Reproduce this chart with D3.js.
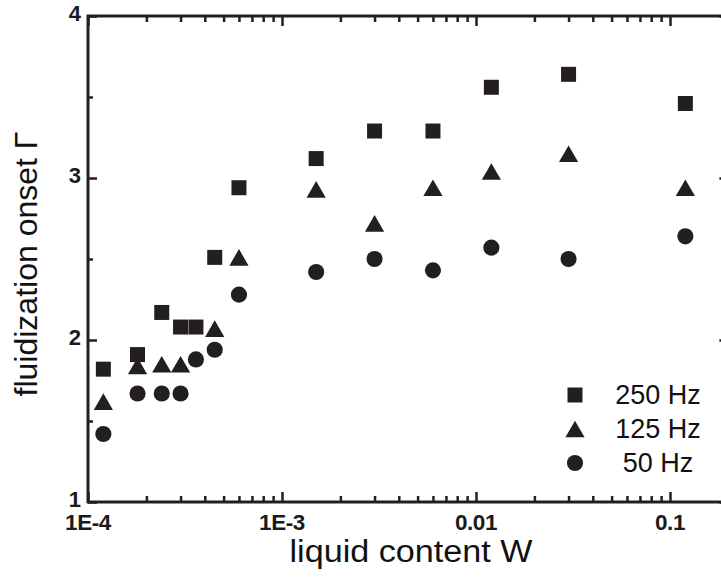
<!DOCTYPE html>
<html>
<head>
<meta charset="utf-8">
<script src="https://cdn.jsdelivr.net/npm/d3@7"></script>
<style>
  html, body { margin: 0; padding: 0; background: #fff; }
  svg { display: block; }
  text { font-family: "Liberation Sans", Arial, Helvetica, sans-serif; }
</style>
</head>
<body>
<svg id="chart" width="721" height="580"></svg>
<script>
// ---------------- data ----------------
const liquidContent = [1.2e-4, 1.8e-4, 2.4e-4, 3.0e-4, 3.6e-4, 4.5e-4, 6.0e-4, 1.5e-3, 3.0e-3, 6.0e-3, 1.2e-2, 3.0e-2, 0.12];
const onset250Hz = [1.82, 1.91, 2.17, 2.08, 2.08, 2.51, 2.94, 3.12, 3.29, 3.29, 3.56, 3.64, 3.46];
const onset125Hz = [1.62, 1.84, 1.85, 1.85, null, 2.07, 2.51, 2.93, 2.72, 2.94, 3.04, 3.15, 2.94];
const onset50Hz  = [1.42, 1.67, 1.67, 1.67, 1.88, 1.94, 2.28, 2.42, 2.50, 2.43, 2.57, 2.50, 2.64];
const seriesNames = ["250 Hz", "125 Hz", "50 Hz"];
const xMajorTicks = [1e-4, 1e-3, 1e-2, 1e-1];
const xMajorLabels = ["1E-4", "1E-3", "0.01", "0.1"];
const yMajorTicks = [1, 2, 3, 4];
const yMajorLabels = ["1", "2", "3", "4"];
const yMinorTicks = [1.5, 2.5, 3.5];
const xDomain = [1e-4, 0.2];
const yDomain = [1, 4];

(function () {
// ---------------- layout ----------------
const svg = d3.select("#chart");
const ink = "#231f20";
const plotLeft = 88, plotTop = 16, plotBottom = 502;
const decade = 194;
const plotRight = plotLeft + decade * Math.log10(xDomain[1] / xDomain[0]);

const x = d3.scaleLog().domain(xDomain).range([plotLeft, plotRight]);
const y = d3.scaleLinear().domain(yDomain).range([plotBottom, plotTop]);

const xAllTicks = x.ticks().filter(v => v >= xDomain[0] && v <= xDomain[1]);
const xMinorTicks = xAllTicks.filter(v => !xMajorTicks.some(m => Math.abs(m - v) / m < 1e-6));

function styleAxis(g) {
  g.select(".domain").remove();
  g.selectAll(".tick line").attr("stroke", ink).attr("stroke-width", 2.5);
  g.selectAll(".tick text").remove();
}

svg.append("g").attr("transform", `translate(0,${plotBottom})`)
  .call(d3.axisBottom(x).tickValues(xMinorTicks).tickSize(-6).tickFormat(""))
  .call(styleAxis);
svg.append("g").attr("transform", `translate(0,${plotBottom})`)
  .call(d3.axisBottom(x).tickValues(xMajorTicks).tickSize(-10).tickFormat(""))
  .call(styleAxis);
svg.append("g").attr("transform", `translate(0,${plotTop})`)
  .call(d3.axisTop(x).tickValues(xMinorTicks).tickSize(-6).tickFormat(""))
  .call(styleAxis);
svg.append("g").attr("transform", `translate(0,${plotTop})`)
  .call(d3.axisTop(x).tickValues(xMajorTicks).tickSize(-10).tickFormat(""))
  .call(styleAxis);
svg.append("g").attr("transform", `translate(${plotLeft},0)`)
  .call(d3.axisLeft(y).tickValues(yMinorTicks).tickSize(-5).tickFormat(""))
  .call(styleAxis);
svg.append("g").attr("transform", `translate(${plotLeft},0)`)
  .call(d3.axisLeft(y).tickValues(yMajorTicks).tickSize(-9).tickFormat(""))
  .call(styleAxis);
svg.append("g").attr("transform", `translate(${plotRight},0)`)
  .call(d3.axisRight(y).tickValues(yMinorTicks).tickSize(-5).tickFormat(""))
  .call(styleAxis);
svg.append("g").attr("transform", `translate(${plotRight},0)`)
  .call(d3.axisRight(y).tickValues(yMajorTicks).tickSize(-9).tickFormat(""))
  .call(styleAxis);

svg.append("rect")
  .attr("x", plotLeft).attr("y", plotTop)
  .attr("width", plotRight - plotLeft).attr("height", plotBottom - plotTop)
  .attr("fill", "none").attr("stroke", ink).attr("stroke-width", 3);

svg.append("g").selectAll("text").data(xMajorTicks).join("text")
  .attr("x", d => x(d))
  .attr("y", plotBottom + 28)
  .attr("text-anchor", "middle")
  .attr("font-size", 22.5).attr("font-weight", "bold")
  .attr("letter-spacing", -0.4)
  .attr("fill", "#1a1a1a")
  .text((d, i) => xMajorLabels[i]);

svg.append("g").selectAll("text").data(yMajorTicks).join("text")
  .attr("x", plotLeft - 7)
  .attr("y", d => y(d) + 4.5)
  .attr("text-anchor", "end")
  .attr("font-size", 22).attr("font-weight", "bold")
  .attr("fill", "#1a1a1a")
  .text((d, i) => yMajorLabels[i]);

svg.append("text")
  .attr("x", 411).attr("y", 562)
  .attr("text-anchor", "middle")
  .attr("font-size", 31)
  .attr("textLength", 243)
  .attr("lengthAdjust", "spacingAndGlyphs")
  .attr("fill", "#111")
  .text("liquid content W");

svg.append("text")
  .attr("transform", `translate(37,264) rotate(-90)`)
  .attr("text-anchor", "middle")
  .attr("font-size", 32)
  .attr("fill", "#111")
  .text("fluidization onset \u0393");

const triangleBox = {
  draw(context, size) {
    const s = Math.sqrt(size * 4 / Math.sqrt(3));
    const h = s * Math.sqrt(3) / 2;
    context.moveTo(0, -h / 2);
    context.lineTo(s / 2, h / 2);
    context.lineTo(-s / 2, h / 2);
    context.closePath();
  }
};
const symbols = [
  d3.symbol().type(d3.symbolSquare).size(225),
  d3.symbol().type(triangleBox).size(160),
  d3.symbol().type(d3.symbolCircle).size(205)
];
const seriesValues = [onset250Hz, onset125Hz, onset50Hz];

seriesValues.forEach((vals, si) => {
  const pts = liquidContent.map((w, i) => ({ w, g: vals[i] })).filter(p => p.g != null);
  svg.append("g").selectAll("path").data(pts).join("path")
    .attr("transform", d => `translate(${x(d.w)},${y(d.g)})`)
    .attr("d", symbols[si]())
    .attr("fill", ink);
});

const legendY = [395, 429, 463];
const legend = svg.append("g");
seriesNames.forEach((name, i) => {
  legend.append("path")
    .attr("transform", `translate(575,${legendY[i]})`)
    .attr("d", symbols[i]())
    .attr("fill", ink);
  legend.append("text")
    .attr("x", 658).attr("y", legendY[i] + 9)
    .attr("text-anchor", "middle")
    .attr("font-size", 27)
    .attr("fill", "#111")
    .text(name);
});
})();
</script>
</body>
</html>
